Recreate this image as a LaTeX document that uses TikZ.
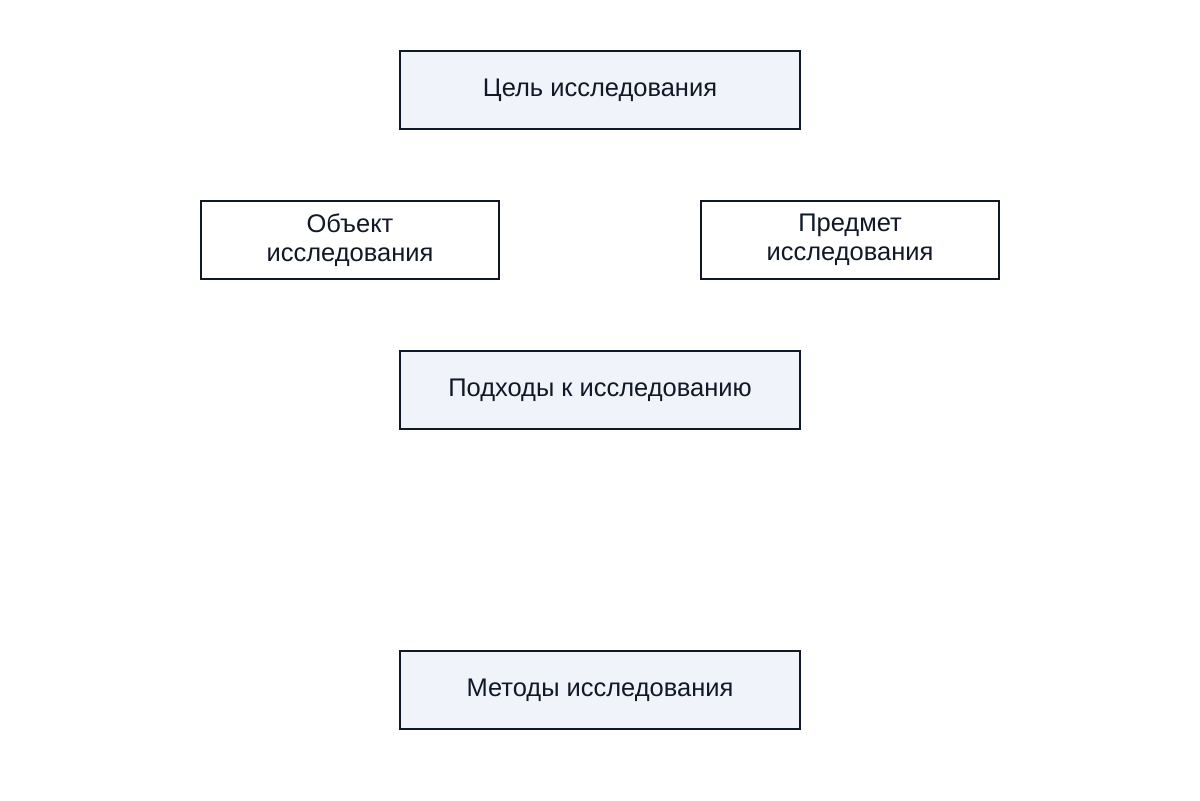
\documentclass[tikz,border=0pt]{standalone}
\usepackage{fontspec}
\setmainfont{Liberation Sans}
\usepackage{tikz}
\definecolor{boxline}{HTML}{111827}
\definecolor{boxfill}{HTML}{F0F3F9}
\tikzset{
every node/.style={rectangle, draw=boxline, line width=1.4pt, text=boxline, align=center,
  font=\fontsize{14.5}{16.5}\selectfont, inner sep=0pt},
wide/.style={minimum width=8cm, minimum height=1.56cm, fill=boxfill},
narrow/.style={minimum width=5.96cm, minimum height=1.56cm, fill=white}
}
\begin{document}
\begin{tikzpicture}
\useasboundingbox (0,0) rectangle (24,-16);
\node [wide] (GOAL) at (12,-1.8) {Цель исследования};
\node [narrow] (OBJ) at (7,-4.8) {Объект\\исследования};
\node [narrow] (SUBJ) at (17,-4.8) {Предмет\\исследования};
\node [wide] (APPR) at (12,-7.8) {Подходы к исследованию};
\node [wide] (METH) at (12,-13.8) {Методы исследования};
\end{tikzpicture}
\end{document}
